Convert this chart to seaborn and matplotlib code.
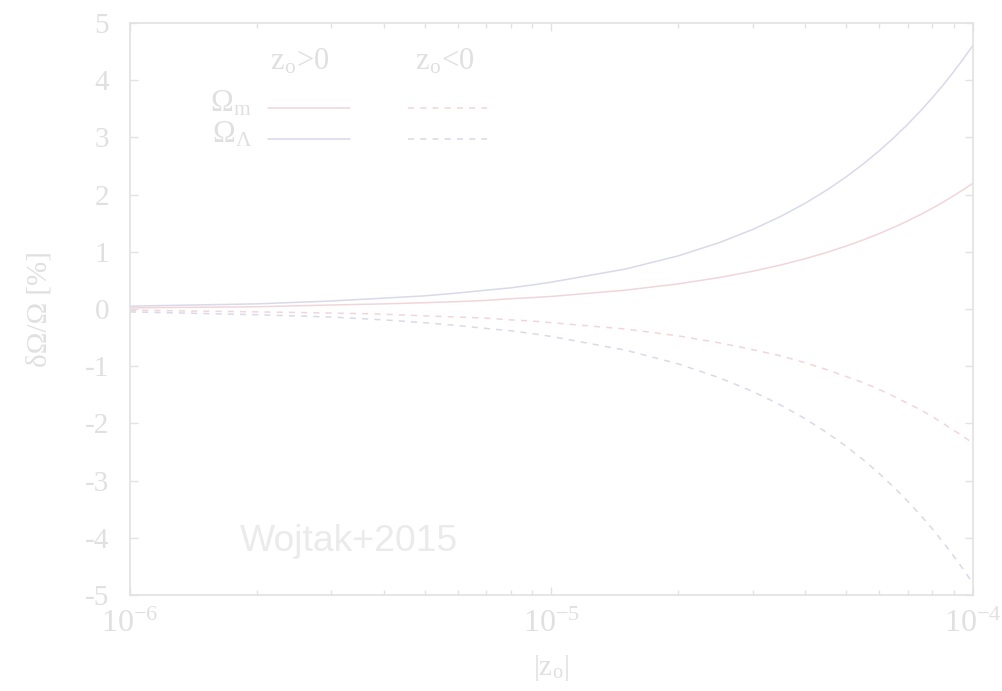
import matplotlib
matplotlib.use("Agg")
import matplotlib.pyplot as plt
import numpy as np
import pandas as pd
import seaborn as sns
from matplotlib.ticker import FixedLocator, LogLocator, LogFormatterMathtext, NullFormatter

# |z_o| sample points and the relative change of the density parameters (in %)
z_abs = [1e-6, 2e-6, 3e-6, 4e-6, 5e-6, 6e-6, 7e-6, 8e-6, 9e-6,
         1e-5, 1.5e-5, 2e-5, 2.5e-5, 3e-5, 3.5e-5, 4e-5, 4.5e-5, 5e-5,
         5.5e-5, 6e-5, 6.5e-5, 7e-5, 7.5e-5, 8e-5, 8.5e-5, 9e-5, 9.5e-5, 1e-4]

omega_m_pos = [0.02, 0.04, 0.07, 0.09, 0.11, 0.13, 0.15, 0.18, 0.20,
               0.22, 0.33, 0.44, 0.55, 0.66, 0.77, 0.88, 0.99, 1.10,
               1.21, 1.32, 1.43, 1.54, 1.65, 1.76, 1.87, 1.98, 2.09, 2.20]
omega_l_pos = [0.05, 0.09, 0.14, 0.19, 0.23, 0.28, 0.33, 0.37, 0.42,
               0.47, 0.70, 0.93, 1.16, 1.39, 1.62, 1.85, 2.08, 2.31,
               2.54, 2.77, 3.00, 3.23, 3.46, 3.69, 3.92, 4.15, 4.38, 4.61]
omega_m_neg = [-0.02, -0.05, -0.07, -0.09, -0.12, -0.14, -0.16, -0.19, -0.21,
               -0.24, -0.35, -0.47, -0.59, -0.71, -0.82, -0.94, -1.06, -1.18,
               -1.29, -1.41, -1.53, -1.65, -1.76, -1.88, -2.00, -2.12, -2.23, -2.35]
omega_l_neg = [-0.05, -0.10, -0.14, -0.19, -0.24, -0.29, -0.34, -0.38, -0.43,
               -0.48, -0.72, -0.96, -1.20, -1.44, -1.68, -1.92, -2.16, -2.40,
               -2.64, -2.88, -3.12, -3.36, -3.60, -3.84, -4.08, -4.32, -4.56, -4.80]

y_ticks = [-5, -4, -3, -2, -1, 0, 1, 2, 3, 4, 5]
x_major = [1e-6, 1e-5, 1e-4]

components = ["m", "L"]
signs = ["pos", "neg"]

frames = []
for comp, sign, vals in [("m", "pos", omega_m_pos), ("L", "pos", omega_l_pos),
                         ("m", "neg", omega_m_neg), ("L", "neg", omega_l_neg)]:
    frames.append(pd.DataFrame({"z": z_abs, "delta": vals,
                                "component": comp, "sign": sign}))
df = pd.concat(frames, ignore_index=True)

COL_M = "#f0d6da"
COL_L = "#d9d9ea"
TXT = "#e0e0e0"
FRAME = "#e2e2e2"

sns.set_theme(style="ticks")
plt.rcParams.update({
    "font.family": ["Liberation Serif", "DejaVu Serif"],
    "mathtext.fontset": "stix",
    "axes.unicode_minus": False,
})

fig = plt.figure(figsize=(10.03, 6.91), dpi=100)
ax = fig.add_axes([0.1296, 0.1389, 0.8405, 0.8278])

sns.lineplot(data=df, x="z", y="delta", hue="component", style="sign",
             hue_order=components, style_order=signs,
             palette={"m": COL_M, "L": COL_L},
             dashes={"pos": "", "neg": (4, 4)},
             units=None, estimator=None, sort=True,
             linewidth=1.1, legend=False, ax=ax)

ax.set_xscale("log")
ax.set_xlim(1e-6, 1e-4)
ax.set_ylim(-5, 5)
ax.xaxis.set_major_locator(FixedLocator(x_major))
ax.xaxis.set_major_formatter(LogFormatterMathtext())
ax.xaxis.set_minor_locator(LogLocator(base=10, subs=np.arange(2, 10)))
ax.xaxis.set_minor_formatter(NullFormatter())
ax.set_yticks(y_ticks)
ax.set_yticklabels([str(v) for v in y_ticks])

for side in ["left", "right", "top", "bottom"]:
    ax.spines[side].set_visible(True)
    ax.spines[side].set_color(FRAME)
    ax.spines[side].set_linewidth(1.2)

ax.tick_params(which="both", direction="in", top=True, right=True,
               color=FRAME, labelcolor=TXT, width=1.0)
ax.tick_params(which="major", length=6)
ax.tick_params(which="minor", length=3.5)
ax.tick_params(axis="y", labelsize=21, pad=15)
ax.tick_params(axis="x", labelsize=23, pad=11)

ax.set_xlabel("|z$_\\mathregular{o}$|", fontsize=21, color=TXT)
ax.set_ylabel("δΩ/Ω [%]", fontsize=21, color=TXT)
ax.xaxis.set_label_coords(0.5, -0.102)
ax.yaxis.set_label_coords(-0.0925, 0.5)

# gnuplot-style key: column headers, row labels and line samples
tr = ax.transAxes
KEY_FS = 22
ax.text(0.2017, 0.932, "z$_\\mathregular{o}$>0", transform=tr, ha="center",
        va="center", fontsize=KEY_FS, color=TXT)
ax.text(0.3737, 0.932, "z$_\\mathregular{o}$<0", transform=tr, ha="center",
        va="center", fontsize=KEY_FS, color=TXT)
ax.text(0.1447, 0.858, "Ω$_\\mathregular{m}$", transform=tr, ha="right",
        va="center", fontsize=KEY_FS, color=TXT)
ax.text(0.1447, 0.803, "Ω$_\\mathregular{Λ}$", transform=tr, ha="right",
        va="center", fontsize=KEY_FS, color=TXT)
ax.plot([0.1637, 0.261], [0.852, 0.852], transform=tr, color=COL_M, lw=1.1)
ax.plot([0.3298, 0.4235], [0.852, 0.852], transform=tr, color=COL_M, lw=1.1,
        dashes=(4, 4))
ax.plot([0.1637, 0.261], [0.797, 0.797], transform=tr, color=COL_L, lw=1.1)
ax.plot([0.3298, 0.4235], [0.797, 0.797], transform=tr, color=COL_L, lw=1.1,
        dashes=(4, 4))

ax.text(0.1305, 0.0927, "Wojtak+2015", transform=tr, ha="left", va="center",
        fontsize=26.8, color="#ebebeb", family="Liberation Sans")

fig.savefig("out.png", dpi=100, facecolor="white")
